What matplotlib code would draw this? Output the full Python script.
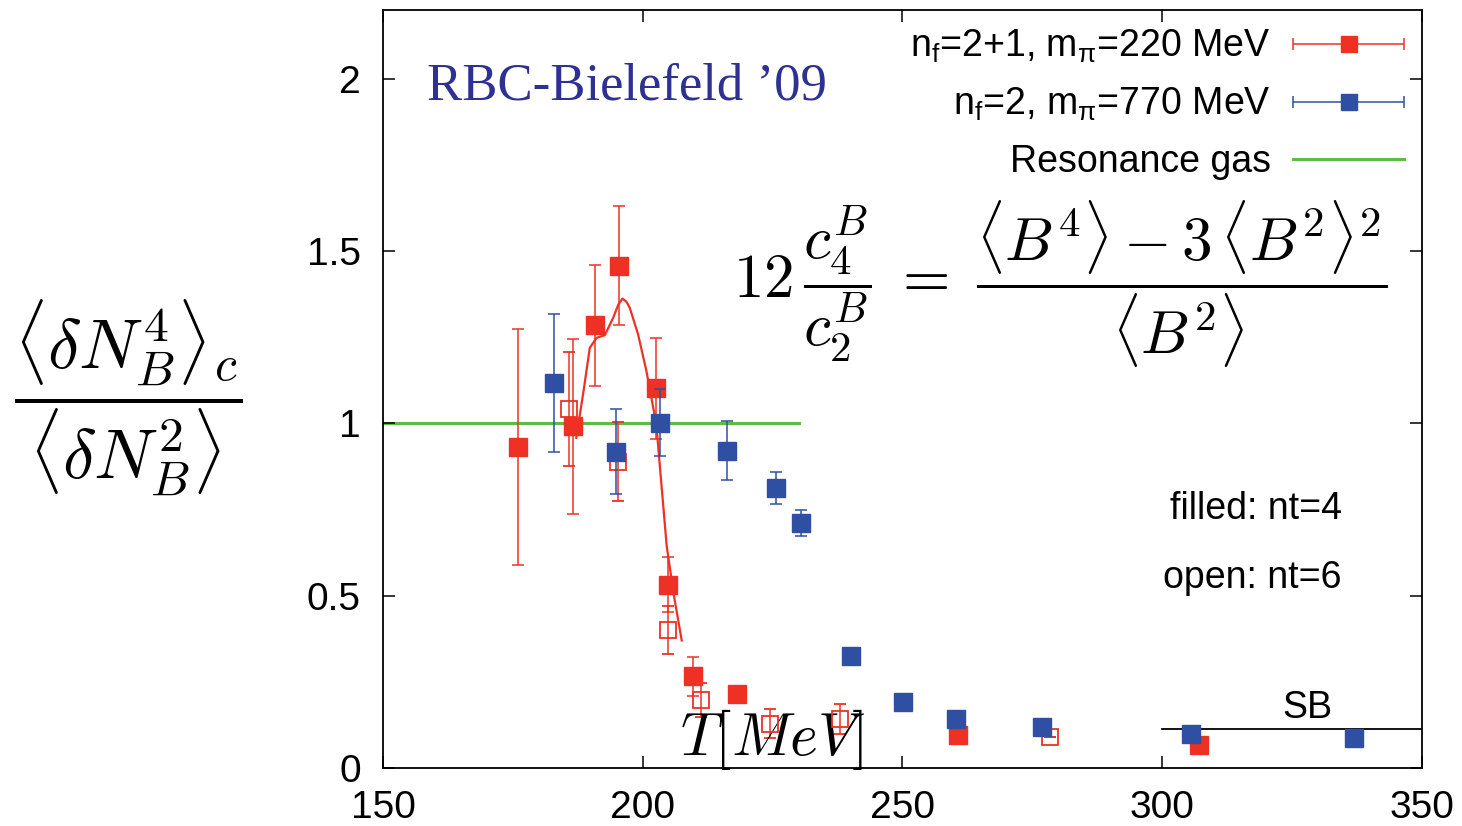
import numpy as np
import matplotlib
matplotlib.use("Agg")
import matplotlib.pyplot as plt
from matplotlib.legend_handler import HandlerErrorbar

# nf=2+1, m_pi=220 MeV, nt=4 (filled)
red4_T = [176.0, 186.5, 190.8, 195.5, 202.6, 204.9, 209.7, 218.2, 260.7, 307.1]
red4_v = [0.932, 0.991, 1.284, 1.457, 1.102, 0.532, 0.266, 0.214, 0.096, 0.067]
red4_e = [0.343, 0.254, 0.175, 0.173, 0.146, 0.08, 0.056, 0.0, 0.0, 0.0]

# nf=2+1, nt=6 (open)
red6_T = [185.8, 195.2, 204.9, 211.3, 224.5, 238.0, 278.4]
red6_v = [1.041, 0.889, 0.401, 0.197, 0.129, 0.142, 0.089]
red6_e = [0.165, 0.114, 0.07, 0.05, 0.043, 0.043, 0.0]

# nf=2, m_pi=770 MeV, nt=4
blue_T = [182.9, 194.9, 203.3, 216.3, 225.7, 230.4, 240.0, 250.1, 260.3, 276.9, 305.5, 336.9]
blue_v = [1.116, 0.918, 1.002, 0.921, 0.812, 0.71, 0.326, 0.191, 0.142, 0.119, 0.098, 0.088]
blue_e = [0.2, 0.124, 0.097, 0.085, 0.047, 0.038, 0, 0, 0, 0, 0, 0]

# fit curve through the nt=4 red points
fit_T = [187.2, 188.6, 189.8, 191.1, 192.7, 194.3, 195.3, 196.1, 196.9, 197.5, 199.1, 200.7, 202.6, 204.6, 206.0, 207.5]
fit_v = [0.958, 1.094, 1.219, 1.248, 1.256, 1.306, 1.345, 1.362, 1.352, 1.335, 1.258, 1.152, 0.998, 0.645, 0.50, 0.37]

# resonance gas and Stefan-Boltzmann limits
rg_T = [150, 230]
rg_v = [1.0, 1.0]
sb_T = [300, 350]
sb_v = [0.113, 0.113]

red = '#ee3124'
blue = '#2f4fa2'
green = '#5dbb46'
navy = '#2e3192'

plt.rcParams['font.family'] = ['Liberation Sans', 'DejaVu Sans']
plt.rcParams['mathtext.fontset'] = 'custom'
plt.rcParams['mathtext.rm'] = 'Liberation Sans'
plt.rcParams['mathtext.it'] = 'Liberation Sans:italic'
plt.rcParams['mathtext.bf'] = 'Liberation Sans:bold'

fig = plt.figure(figsize=(14.62, 8.26), dpi=100)
ax = fig.add_axes([0.262, 0.0702, 0.7106, 0.918])

ax.plot(rg_T, rg_v, color=green, lw=2.2, zorder=1)
ax.plot(sb_T, sb_v, color='black', lw=1.3, zorder=1)

ax.errorbar(red4_T, red4_v, yerr=red4_e, fmt='s', color=red, ms=13,
            capsize=4.5, elinewidth=1.1, capthick=1.1, zorder=3)
ax.errorbar(red6_T, red6_v, yerr=red6_e, fmt='s', color=red, mfc='none',
            mec=red, mew=1.3, ms=12, capsize=4.5, elinewidth=1.1, capthick=1.1, zorder=3)
ax.errorbar(blue_T, blue_v, yerr=blue_e, fmt='s', color=blue, ms=13,
            capsize=4.5, elinewidth=1.1, capthick=1.1, zorder=4)
ax.plot(fit_T, fit_v, color=red, lw=1.6, zorder=2)

# legend entries drawn with horizontal error bars
h_red = ax.errorbar([np.nan], [np.nan], xerr=[1], fmt='s', color=red, ms=12,
                    capsize=4.5, elinewidth=1.1, capthick=1.1)
h_blue = ax.errorbar([np.nan], [np.nan], xerr=[1], fmt='s', color=blue, ms=12,
                     capsize=4.5, elinewidth=1.1, capthick=1.1)
h_green, = ax.plot([np.nan], [np.nan], color=green, lw=2.2)
leg = ax.legend([h_red, h_blue, h_green],
                ['n$_\\mathregular{f}$=2+1, m$_\\mathregular{π}$=220 MeV',
                 'n$_\\mathregular{f}$=2, m$_\\mathregular{π}$=770 MeV',
                 'Resonance gas'],
                loc='upper right', frameon=False, fontsize=27, markerfirst=False,
                handlelength=2.95, handletextpad=0.6, labelspacing=0.56,
                borderaxespad=0.08, numpoints=1,
                handler_map={type(h_red): HandlerErrorbar(xerr_size=1.475)})

ax.set_xlim(150, 350)
ax.set_ylim(0, 2.2)
ax.set_xticks([150, 200, 250, 300, 350])
ax.set_yticks([0, 0.5, 1, 1.5, 2])
ax.set_yticklabels(['0', '0.5', '1', '1.5', '2'])
ax.tick_params(direction='in', length=8.5, width=1.1, top=True, right=True,
               labelsize=28, pad=16)
for s in ax.spines.values():
    s.set_linewidth(1.3)

ax.text(0.0423, 0.881, 'RBC-Bielefeld \u201909', transform=ax.transAxes,
        family='Liberation Serif', fontsize=38, color=navy, va='baseline')
ax.text(0.6516, 0.638,
        r'$\mathbf{12}\,\dfrac{c_4^B}{c_2^B}\;=\;\dfrac{\langle B^4\rangle-3\,\langle B^2\rangle^2}{\langle B^2\rangle}$',
        transform=ax.transAxes, ha='center', va='center', fontsize=44,
        math_fontfamily='cm')
ax.text(0.286, 0.017, r'$T[MeV]$', transform=ax.transAxes, fontsize=43,
        va='baseline', math_fontfamily='cm')
ax.text(0.923, 0.329, 'filled: nt=4', transform=ax.transAxes, fontsize=27,
        ha='right', va='baseline')
ax.text(0.923, 0.237, 'open: nt=6', transform=ax.transAxes, fontsize=27,
        ha='right', va='baseline')
ax.text(0.890, 0.066, 'SB', transform=ax.transAxes, fontsize=27,
        ha='center', va='baseline')

fig.text(0.0876, 0.519,
         r'$\dfrac{\langle\delta N_B^4\rangle_c}{\langle\delta N_B^2\rangle}$',
         ha='center', va='center', fontsize=51, math_fontfamily='cm')

fig.savefig('out.png', dpi=100)
